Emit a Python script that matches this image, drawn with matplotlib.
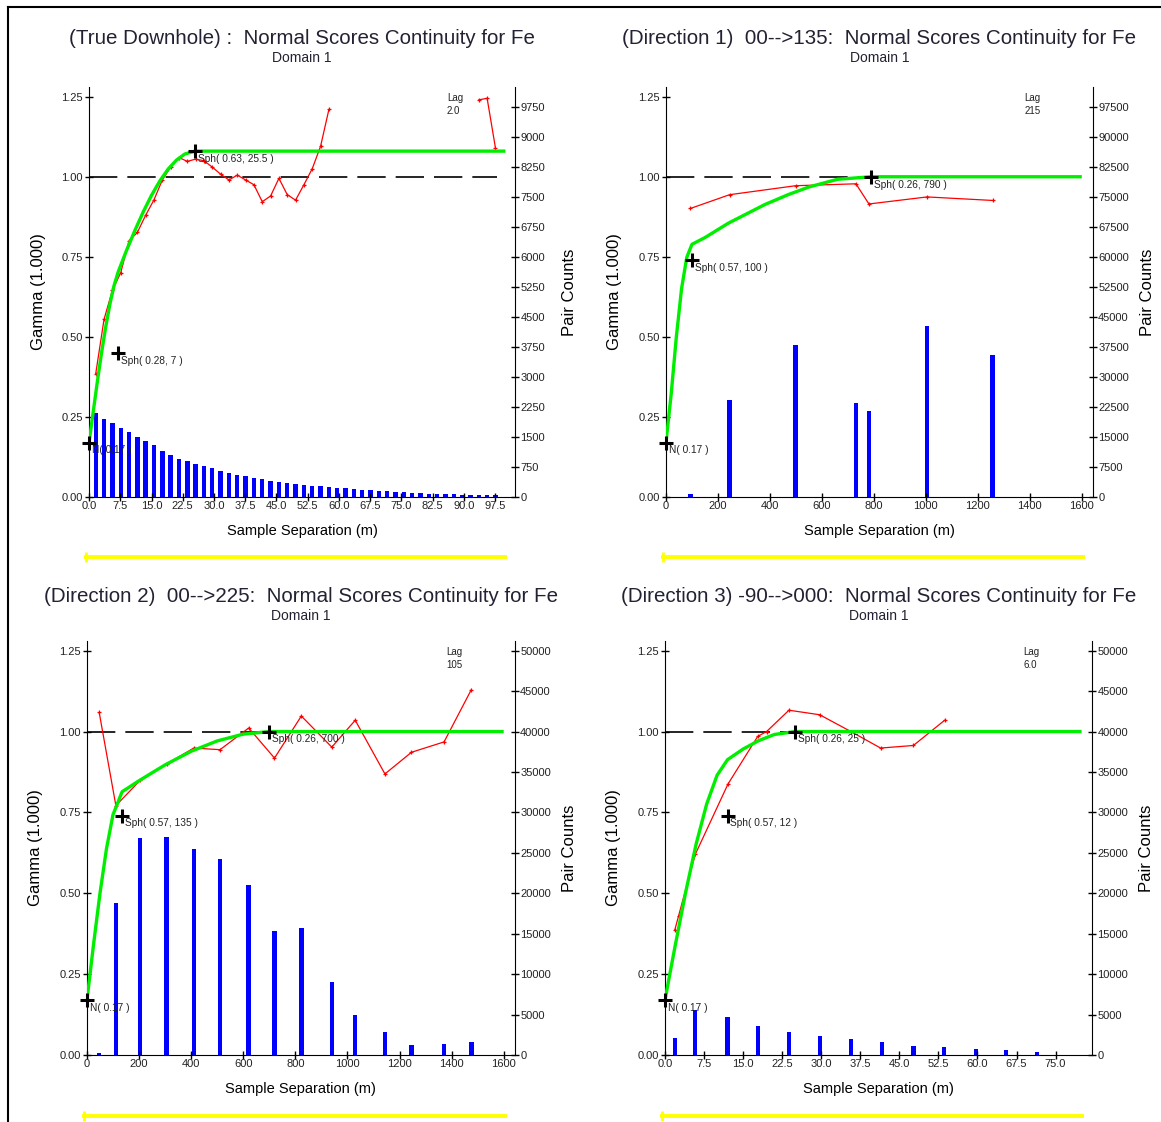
import numpy as np
import matplotlib
matplotlib.use("Agg")
import matplotlib.pyplot as plt
from matplotlib.lines import Line2D

plt.rcParams['font.family'] = ['Liberation Sans', 'DejaVu Sans']

# ---- chart text
titles = ["(True Downhole) :  Normal Scores Continuity for Fe",
          "(Direction 1)  00-->135:  Normal Scores Continuity for Fe",
          "(Direction 2)  00-->225:  Normal Scores Continuity for Fe",
          "(Direction 3) -90-->000:  Normal Scores Continuity for Fe"]
subtitle = "Domain 1"
lag_labels = ["Lag\n2.0", "Lag\n215", "Lag\n105", "Lag\n6.0"]

# ---- panel 1 : true downhole (lag 2.0)
p1_lags = [1.6, 3.6, 5.6, 7.6, 9.6, 11.6, 13.6, 15.6, 17.6, 19.6,
           21.6, 23.6, 25.6, 27.6, 29.6, 31.6, 33.6, 35.6, 37.6, 39.6,
           41.6, 43.6, 45.6, 47.6, 49.6, 51.6, 53.6, 55.6, 57.6, 59.6,
           61.6, 63.6, 65.6, 67.6, 69.6, 71.6, 73.6, 75.6, 77.6, 79.6,
           81.6, 83.6, 85.6, 87.6, 89.6, 91.6, 93.6, 95.6, 97.6]
p1_gamma = [0.385, 0.555, 0.645, 0.70, 0.80, 0.826, 0.88, 0.928, 0.99, 1.03,
            1.06, 1.048, 1.055, 1.05, 1.03, 1.008, 0.99, 1.005, 0.99, 0.975,
            0.922, 0.94, 0.995, 0.944, 0.927, 0.975, 1.025, 1.095, 1.21, np.nan,
            np.nan, np.nan, np.nan, np.nan, np.nan, np.nan, np.nan, np.nan, np.nan, np.nan,
            np.nan, np.nan, np.nan, np.nan, np.nan, np.nan, 1.24, 1.245, 1.09]
p1_pairs = [2090, 1960, 1840, 1730, 1620, 1490, 1390, 1290, 1160, 1050,
            960, 890, 830, 770, 720, 650, 600, 560, 520, 480,
            440, 410, 380, 345, 330, 300, 285, 265, 250, 235,
            215, 205, 185, 170, 155, 140, 125, 118, 112, 100,
            85, 78, 74, 70, 62, 52, 45, 42, 40]
p1_model_x = [0, 1, 2, 3, 4, 5, 6, 7, 9, 11, 13, 15, 17, 19, 21, 23, 25.5, 100]
p1_model_y = [0.17, 0.266, 0.361, 0.45, 0.531, 0.602, 0.66, 0.703, 0.77, 0.832,
              0.89, 0.942, 0.987, 1.024, 1.052, 1.071, 1.08, 1.08]
p1_nugget = 0.17
p1_sph = [(0.28, 7), (0.63, 25.5)]

# ---- panel 2 : direction 1 00-->135 (lag 215)
p2_lags = [94, 245, 499, 731, 781, 1005, 1257]
p2_gamma = [0.901, 0.944, 0.972, 0.978, 0.915, 0.937, 0.926]
p2_pairs = [750, 24200, 38000, 23400, 21500, 42600, 35600]
p2_model_x = [0, 20, 40, 60, 80, 100, 150, 240, 380, 470, 550, 660, 790, 1600]
p2_model_y = [0.17, 0.32, 0.50, 0.65, 0.748, 0.789, 0.81, 0.855, 0.913, 0.944,
              0.968, 0.992, 1.0, 1.0]
p2_nugget = 0.17
p2_sph = [(0.57, 100), (0.26, 790)]

# ---- panel 3 : direction 2 00-->225 (lag 105)
p3_lags = [47, 111, 204, 306, 410, 511, 621, 720, 823, 940, 1030, 1144, 1246, 1371, 1476]
p3_gamma = [1.059, 0.771, 0.849, 0.90, 0.949, 0.944, 1.011, 0.918, 1.048, 0.952,
            1.035, 0.869, 0.936, 0.968, 1.13]
p3_pairs = [210, 18750, 26800, 27000, 25500, 24300, 21000, 15300, 15700, 9000,
            5000, 2900, 1200, 1350, 1550]
p3_model_x = [0, 25, 50, 75, 100, 135, 200, 300, 400, 500, 600, 700, 1600]
p3_model_y = [0.17, 0.34, 0.50, 0.638, 0.743, 0.814, 0.848, 0.897, 0.939, 0.971,
              0.992, 1.0, 1.0]
p3_nugget = 0.17
p3_sph = [(0.57, 135), (0.26, 700)]

# ---- panel 4 : direction 3 -90-->000 (lag 6.0)
p4_lags = [1.9, 5.8, 12.0, 17.8, 23.8, 29.7, 35.7, 41.6, 47.7, 53.5, 59.7, 65.5, 71.5]
p4_pairs = [2150, 5600, 4650, 3650, 2900, 2300, 1950, 1550, 1150, 950, 800, 620, 370]
p4_gamma_x = [1.9, 2.6, 5.8, 12.1, 17.8, 19.5, 23.8, 29.7, 35.7, 41.4, 47.7, 53.7]
p4_gamma = [0.388, 0.43, 0.62, 0.838, 0.985, 1.0, 1.066, 1.052, 1.0, 0.949, 0.957, 1.035]
p4_model_x = [0, 1, 2, 4, 6, 8, 10, 12, 15, 18, 21, 25, 80]
p4_model_y = [0.17, 0.257, 0.342, 0.506, 0.654, 0.776, 0.865, 0.913, 0.946, 0.972,
              0.991, 1.0, 1.0]
p4_nugget = 0.17
p4_sph = [(0.57, 12), (0.26, 25)]

panels = [
    dict(lags=p1_lags, gx=p1_lags, gamma=p1_gamma, pairs=p1_pairs, mx=p1_model_x, my=p1_model_y,
         nug=p1_nugget, sph=p1_sph, xmax=102.3, xticks=np.arange(0, 98, 7.5), xfmt="%.1f",
         pmax=10000, pstep=750, barw=1.05, dash_end=98),
    dict(lags=p2_lags, gx=p2_lags, gamma=p2_gamma, pairs=p2_pairs, mx=p2_model_x, my=p2_model_y,
         nug=p2_nugget, sph=p2_sph, xmax=1643, xticks=np.arange(0, 1601, 200), xfmt="%d",
         pmax=100000, pstep=7500, barw=17, dash_end=1600),
    dict(lags=p3_lags, gx=p3_lags, gamma=p3_gamma, pairs=p3_pairs, mx=p3_model_x, my=p3_model_y,
         nug=p3_nugget, sph=p3_sph, xmax=1643, xticks=np.arange(0, 1601, 200), xfmt="%d",
         pmax=50000, pstep=5000, barw=17, dash_end=1600),
    dict(lags=p4_lags, gx=p4_gamma_x, gamma=p4_gamma, pairs=p4_pairs, mx=p4_model_x, my=p4_model_y,
         nug=p4_nugget, sph=p4_sph, xmax=82, xticks=np.arange(0, 76, 7.5), xfmt="%.1f",
         pmax=50000, pstep=5000, barw=0.8, dash_end=80),
]

rects = [[0.0767, 0.5570, 0.3669, 0.3654],
         [0.5736, 0.5570, 0.3678, 0.3654],
         [0.0749, 0.0597, 0.3686, 0.3690],
         [0.5728, 0.0597, 0.3678, 0.3690]]
title_y = [0.966, 0.966, 0.4688, 0.4688]
sub_y = [0.9483, 0.9483, 0.451, 0.451]

YTOP = 1.28
fig = plt.figure(figsize=(11.61, 11.22), dpi=100)

for i, p in enumerate(panels):
    ax = fig.add_axes(rects[i])
    ax2 = ax.twinx()
    ax.set_zorder(ax2.get_zorder() + 1)
    ax.patch.set_visible(False)

    # pair count bars on right axis
    ax2.bar(p["lags"], p["pairs"], width=p["barw"], color="#0000FF", zorder=1)
    ax2.set_ylim(0, p["pmax"] * YTOP / 1.25)
    ax2.set_yticks(np.arange(0, p["pmax"] + 1, p["pstep"]))
    ax2.set_ylabel("Pair Counts", fontsize=12, rotation=90)
    ax2.yaxis.set_label_coords(1.11, 0.5)

    # sill, experimental and model
    ax.plot([0, p["dash_end"]], [1, 1], color="black", lw=1.2, dashes=(17, 6), zorder=2)
    ax.plot(p["gx"], p["gamma"], color="#FF0000", lw=0.9, marker="+", ms=3.5, mew=0.9, zorder=3)
    ax.plot(p["mx"], p["my"], color="#00EE00", lw=2.4, zorder=4, solid_capstyle="butt")

    # structure markers
    marks_y = [p["nug"]]
    labels = ["N( %.2f )" % p["nug"]]
    for c, r in p["sph"]:
        marks_y.append(marks_y[-1] + c)
        labels.append("Sph( %.2f, %g )" % (c, r))
    marks_x = [0] + [r for c, r in p["sph"]]
    ax.plot(marks_x, marks_y, linestyle="none", marker="+", ms=10, mew=2.2,
            color="black", zorder=6, clip_on=False)
    for mx_, my_, lab in zip(marks_x, marks_y, labels):
        ax.annotate(lab, (mx_, my_), xytext=(2, -2), textcoords="offset points",
                    fontsize=7.3, va="top", ha="left", color="#222222", zorder=7)

    ax.text(0.84, 0.985, lag_labels[i], transform=ax.transAxes, fontsize=7,
            va="top", ha="left", color="#222222", linespacing=1.3)

    ax.set_xlim(0, p["xmax"])
    ax.set_ylim(0, YTOP)
    ax.set_yticks([0, 0.25, 0.5, 0.75, 1.0, 1.25])
    ax.set_yticklabels(["%.2f" % v for v in [0, 0.25, 0.5, 0.75, 1.0, 1.25]])
    ax.set_xticks(p["xticks"])
    ax.set_xticklabels([p["xfmt"] % v for v in p["xticks"]])
    ax.set_ylabel("Gamma (1.000)", fontsize=12)
    ax.yaxis.set_label_coords(-0.102, 0.5)
    ax.set_xlabel("Sample Separation (m)", fontsize=10.5)
    ax.xaxis.set_label_coords(0.5, -0.066)

    for a in (ax, ax2):
        a.spines["top"].set_visible(False)
        a.tick_params(direction="inout", length=6, width=1, labelsize=8,
                      colors="black", labelcolor="#222222")
    ax.tick_params(axis="x", pad=0)
    ax.tick_params(axis="y", pad=1.5)
    ax2.tick_params(axis="y", pad=0.8)
    ax.spines["right"].set_visible(False)
    ax2.spines["left"].set_visible(False)
    ax2.spines["bottom"].set_visible(False)

    # yellow rule under each panel
    yy = -0.147
    ax.plot([-0.008, 0.977], [yy, yy], transform=ax.transAxes, clip_on=False,
            color="#FFFF00", lw=2.8)
    ax.plot([-0.008], [yy], transform=ax.transAxes, clip_on=False, marker="|",
            ms=7, mew=2, color="#FFFF00")

    cx = rects[i][0] + rects[i][2] / 2
    fig.text(cx, title_y[i], titles[i], ha="center", va="center", fontsize=14.8, color="#222233")
    fig.text(cx, sub_y[i], subtitle, ha="center", va="center", fontsize=10, color="#222233")

# screenshot frame
fig.add_artist(Line2D([0.0065, 0.0065], [0, 0.994], color="black", lw=1.5, transform=fig.transFigure))
fig.add_artist(Line2D([0.0065, 1], [0.994, 0.994], color="black", lw=1.5, transform=fig.transFigure))

fig.savefig("out.png", dpi=100)
